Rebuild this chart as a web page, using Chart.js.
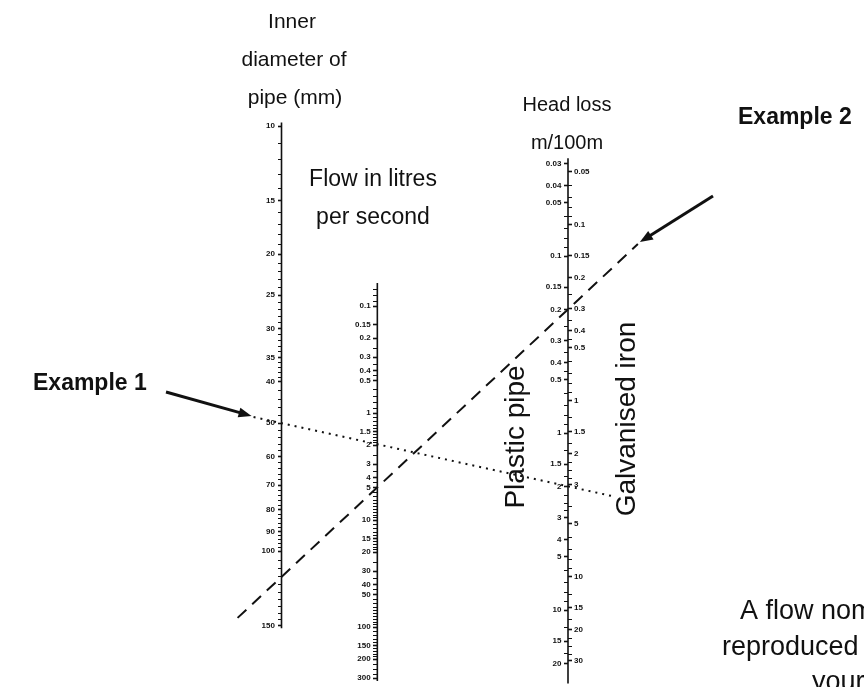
<!DOCTYPE html>
<html>
<head>
<meta charset="utf-8">
<title>Flow nomogram</title>
<script src="https://cdn.jsdelivr.net/npm/chart.js@4.4.1/dist/chart.umd.min.js"></script>
<style>
  html, body { margin: 0; padding: 0; background: #fff; }
  canvas { display: block; }
</style>
</head>
<body>
<canvas id="nomogram" width="864" height="687"></canvas>
<script>
// Labelled values on each nomogram scale
const diameterTicks = [10, 15, 20, 25, 30, 35, 40, 50, 60, 70, 80, 90, 100, 150];
const flowTicks = [0.1, 0.15, 0.2, 0.3, 0.4, 0.5, 1, 1.5, 2, 3, 4, 5, 10, 15, 20, 30, 40, 50, 100, 150, 200, 300];
const plasticTicks = [0.03, 0.04, 0.05, 0.1, 0.15, 0.2, 0.3, 0.4, 0.5, 1, 1.5, 2, 3, 4, 5, 10, 15, 20];
const galvanisedTicks = [0.05, 0.1, 0.15, 0.2, 0.3, 0.4, 0.5, 1, 1.5, 2, 3, 5, 10, 15, 20, 30];

// Unlabelled graduations: [from, to, step]
const diameterMinor = [[10, 40, 1], [40, 100, 2], [100, 150, 5]];
const flowMinor = [[0.07, 0.1, 0.01], [0.1, 0.5, 0.05], [0.5, 2, 0.1], [2, 10, 0.5], [10, 20, 1], [20, 100, 5], [100, 200, 10], [200, 300, 25]];
const plasticMinor = [[0.03, 0.1, 0.01], [0.1, 0.5, 0.05], [0.5, 1, 0.1], [1, 3, 0.25], [3, 10, 1], [10, 20, 2.5]];
const galvanisedMinor = [[0.05, 0.1, 0.01], [0.1, 0.5, 0.05], [0.5, 1, 0.1], [1, 3, 0.25], [3, 10, 1], [10, 30, 2.5]];

// Scale ranges (min, max) and drawn extent of each ruler
const diameterRange = [9.57, 206.6];
const flowRange = [0.00175, 348];
const plasticRange = [0.0166, 26.5];
const galvanisedRange = [0.0247, 41.1];
const diameterExtent = [9.8, 152];
const flowExtent = [0.061, 320];
const headExtent = [0.028, 26];

// Worked examples
const example1 = { diameter: 50, flow: 1.9, plastic: 2, galvanised: 3 };
const example2 = { diameter: 115, flow: 5, plastic: 0.2, galvanised: 0.3 };

// ---- layout ----
const INK = '#111';
const FONT = '"Liberation Sans", Arial, sans-serif';
const COLUMN_X = { diameter: 281, flow: 377, head: 568 };
const EXAMPLE1_SPAN = [253, 613];
const EXAMPLE2_SPAN = [237, 638];

function stepTicks(segments) {
  const out = [];
  segments.forEach(([from, to, step]) => {
    for (let v = from; v <= to + step / 2; v += step) out.push(Number(v.toFixed(4)));
  });
  return out;
}

function nomogramAxis(labels, minor, range, position, width) {
  const all = [...new Set([...labels, ...stepTicks(minor)])].sort((a, b) => a - b);
  // object-positioned axes right-align labels on the line itself, so pad them
  const gap = typeof position === 'object' ? '   ' : '';
  return {
    type: 'logarithmic',
    axis: 'y',
    position: position,
    min: range[0],
    max: range[1],
    reverse: true,
    border: { display: false },
    grid: {
      drawOnChartArea: false,
      drawTicks: true,
      tickLength: 4,
      tickColor: INK,
      tickWidth: (c) => (c.tick && labels.includes(c.tick.value) ? 1.6 : 1)
    },
    ticks: {
      autoSkip: false,
      padding: 2,
      color: INK,
      font: { family: FONT, size: 8, weight: 'bold' },
      callback: (v) => (labels.includes(v) ? String(v) + gap : '')
    },
    afterBuildTicks: (s) => {
      s.ticks = all.filter(v => v >= s.min && v <= s.max).map(v => ({ value: v }));
    },
    afterFit: (s) => {
      s.paddingTop = 0;
      s.paddingBottom = 0;
      if (width) s.width = width;
    }
  };
}

function ruler(x, extent, axisId) {
  return {
    data: [{ x: x, y: extent[0] }, { x: x, y: extent[1] }],
    yAxisID: axisId,
    borderColor: INK,
    borderWidth: 1.6,
    pointRadius: 0,
    showLine: true,
    clip: false
  };
}

const textPlugin = {
  id: 'nomogramText',
  afterDraw(chart) {
    const ctx = chart.ctx;
    ctx.save();
    ctx.fillStyle = INK;
    ctx.textBaseline = 'middle';

    const lines = [
      ['Inner', 292, 22, 21], ['diameter of', 294, 60, 21], ['pipe (mm)', 295, 98, 21],
      ['Head loss', 567, 105, 20], ['m/100m', 567, 143, 20],
      ['Flow in litres', 373, 180, 23], ['per second', 373, 218, 23]
    ];
    ctx.textAlign = 'center';
    lines.forEach(([t, x, y, size]) => { ctx.font = size + 'px ' + FONT; ctx.fillText(t, x, y); });

    ctx.font = '27px ' + FONT;
    ctx.textAlign = 'left';
    [['A flow nomogram', 740, 612], ['reproduced from', 722, 648], ['your', 812, 683]].forEach(([t, x, y]) => ctx.fillText(t, x, y));

    ctx.font = 'bold 23px ' + FONT;
    ctx.fillText('Example 1', 33, 384);
    ctx.fillText('Example 2', 738, 118);

    ctx.font = '28px ' + FONT;
    ctx.textAlign = 'center';
    [['Plastic pipe', 516, 437], ['Galvanised iron', 627, 419]].forEach(([t, x, y]) => {
      ctx.save();
      ctx.translate(x, y);
      ctx.rotate(-Math.PI / 2);
      ctx.fillText(t, 0, 0);
      ctx.restore();
    });

    // arrows pointing at the ends of the example lines
    const tip1 = chart.getDatasetMeta(3).data[0];
    const tip2 = chart.getDatasetMeta(4).data[1];
    if (tip1) arrow(ctx, 166, 392, tip1.x - 2, tip1.y - 1);
    if (tip2) arrow(ctx, 713, 196, tip2.x + 2, tip2.y - 2);
    ctx.restore();
  }
};

function arrow(ctx, x1, y1, x2, y2) {
  const ang = Math.atan2(y2 - y1, x2 - x1);
  const len = 13, half = 5;
  ctx.strokeStyle = INK;
  ctx.lineWidth = 3;
  ctx.beginPath();
  ctx.moveTo(x1, y1);
  ctx.lineTo(x2 - Math.cos(ang) * len * 0.8, y2 - Math.sin(ang) * len * 0.8);
  ctx.stroke();
  ctx.beginPath();
  ctx.moveTo(x2, y2);
  ctx.lineTo(x2 - Math.cos(ang) * len - Math.sin(ang) * half, y2 - Math.sin(ang) * len + Math.cos(ang) * half);
  ctx.lineTo(x2 - Math.cos(ang) * len + Math.sin(ang) * half, y2 - Math.sin(ang) * len - Math.cos(ang) * half);
  ctx.closePath();
  ctx.fillStyle = INK;
  ctx.fill();
}

const chart = new Chart(document.getElementById('nomogram'), {
  type: 'scatter',
  data: {
    datasets: [
      ruler(COLUMN_X.diameter, diameterExtent, 'diameter'),
      ruler(COLUMN_X.flow, flowExtent, 'flow'),
      ruler(COLUMN_X.head, headExtent, 'plastic'),
      {
        label: 'Example 1', data: [], yAxisID: 'plastic', showLine: true, clip: false,
        borderColor: INK, borderWidth: 2, borderDash: [2, 5], pointRadius: 0
      },
      {
        label: 'Example 2', data: [], yAxisID: 'plastic', showLine: true, clip: false,
        borderColor: INK, borderWidth: 2, borderDash: [12, 8], pointRadius: 0
      }
    ]
  },
  options: {
    responsive: false,
    animation: false,
    devicePixelRatio: 1,
    events: [],
    layout: { padding: { top: 118, bottom: 2, left: 0, right: 256 } },
    plugins: { legend: { display: false }, tooltip: { enabled: false } },
    scales: {
      x: { type: 'linear', min: 0, max: COLUMN_X.head, display: false },
      diameter: nomogramAxis(diameterTicks, diameterMinor, diameterRange, { x: COLUMN_X.diameter }),
      flow: nomogramAxis(flowTicks, flowMinor, flowRange, { x: COLUMN_X.flow }),
      plastic: nomogramAxis(plasticTicks, plasticMinor, plasticRange, { x: COLUMN_X.head }),
      galvanised: nomogramAxis(galvanisedTicks, galvanisedMinor, galvanisedRange, 'right', 40)
    }
  },
  plugins: [textPlugin]
});

// Example lines: straight line through the diameter and head-loss readings
function exampleLine(ex, span) {
  const xs = chart.scales.x, dia = chart.scales.diameter, pl = chart.scales.plastic;
  const xa = xs.getPixelForValue(COLUMN_X.diameter), ya = dia.getPixelForValue(ex.diameter);
  const xb = xs.getPixelForValue(COLUMN_X.head), yb = pl.getPixelForValue(ex.plastic);
  const slope = (yb - ya) / (xb - xa);
  return span.map(xv => ({ x: xv, y: pl.getValueForPixel(ya + slope * (xs.getPixelForValue(xv) - xa)) }));
}

chart.data.datasets[3].data = exampleLine(example1, EXAMPLE1_SPAN);
chart.data.datasets[4].data = exampleLine(example2, EXAMPLE2_SPAN);
chart.update('none');
</script>
</body>
</html>
